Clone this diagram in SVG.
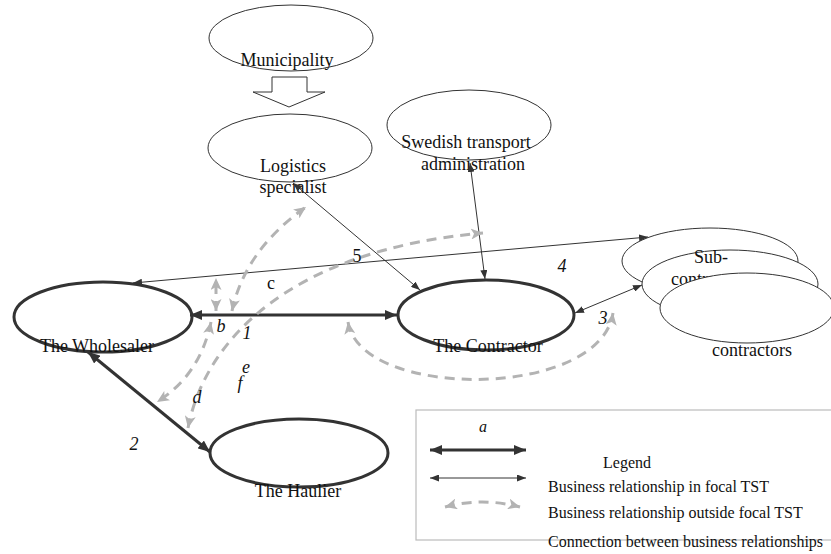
<svg xmlns="http://www.w3.org/2000/svg" width="831" height="554" viewBox="0 0 831 554">
<defs>
<style>
.nd{fill:#fff;stroke:#333;stroke-width:1}
.nt{fill:#fff;stroke:#333;stroke-width:3}
.t{font-family:"Liberation Serif","Times New Roman",serif;font-size:18px;fill:#111;text-anchor:middle}
.lg{font-family:"Liberation Serif","Times New Roman",serif;font-size:16px;fill:#111}
.it{font-style:italic}
.thick{stroke:#333;stroke-width:3;fill:none;marker-start:url(#ak);marker-end:url(#ak)}
.thin{stroke:#333;stroke-width:1;fill:none}
.gd{stroke:#b3b3b3;stroke-width:3;fill:none;stroke-dasharray:10 7;marker-start:url(#ag);marker-end:url(#ag)}
</style>
<marker id="ak" markerUnits="userSpaceOnUse" markerWidth="12" markerHeight="10" refX="12" refY="5" orient="auto-start-reverse"><path d="M0,0 L12,5 L0,10 z" fill="#333"/></marker>
<marker id="an" markerUnits="userSpaceOnUse" markerWidth="9" markerHeight="7" refX="9" refY="3.5" orient="auto-start-reverse"><path d="M0,0 L9,3.5 L0,7 z" fill="#333"/></marker>
<marker id="ag" markerUnits="userSpaceOnUse" markerWidth="12" markerHeight="11" refX="12" refY="5.5" orient="auto-start-reverse"><path d="M0,0 L12,5.5 L0,11 L3,5.5 z" fill="#b3b3b3"/></marker>
</defs>
<rect width="831" height="554" fill="#fff"/>

<g id="legend">
<rect x="416" y="410" width="420" height="130" fill="none" stroke="#bbb" stroke-width="1.2"/>
<text class="lg it" x="483" y="432" text-anchor="middle">a</text>
<line class="thick" x1="430" y1="450" x2="526" y2="450"/>
<line class="thin" x1="430" y1="478" x2="526" y2="478" marker-start="url(#an)" marker-end="url(#an)"/>
<path class="gd" d="M445,507 Q482,497 520,507"/>
<text class="lg" x="627" y="468" text-anchor="middle">Legend</text>
<text class="lg" x="548" y="492">Business relationship in focal TST</text>
<text class="lg" x="548" y="518">Business relationship outside focal TST</text>
<text class="lg" x="548" y="547">Connection between business relationships</text>
</g>

<g id="municipality">
<ellipse class="nd" cx="291" cy="38" rx="82" ry="33"/>
<text class="t" x="287" y="66">Municipality</text>
</g>
<g id="block-arrow">
<polygon points="272,77 307,77 307,92 325,92 289,107 253,92 272,92" fill="#fff" stroke="#333" stroke-width="1"/>
</g>
<g id="logistics">
<ellipse class="nd" cx="290" cy="148" rx="82" ry="34"/>
<text class="t" x="293" y="172">Logistics</text>
<text class="t" x="293" y="193">specialist</text>
</g>
<g id="swedish">
<ellipse class="nd" cx="469" cy="125" rx="82" ry="35"/>
<text class="t" x="466" y="148">Swedish transport</text>
<text class="t" x="473" y="170">administration</text>
</g>
<g id="subcontractors">
<ellipse class="nd" cx="710" cy="261" rx="88" ry="33"/>
<ellipse class="nd" cx="730" cy="284" rx="88" ry="34"/>
<text class="t" x="711" y="263">Sub-</text>
<text class="t" x="711" y="285">contractors</text>
<ellipse class="nd" cx="747" cy="308" rx="87" ry="35"/>
<text class="t" x="752" y="356">contractors</text>
</g>
<g id="wholesaler">
<ellipse class="nt" cx="103" cy="317" rx="89" ry="35"/>
<text class="t" x="97" y="352">The Wholesaler</text>
</g>
<g id="contractor">
<ellipse class="nt" cx="486" cy="315" rx="88" ry="35"/>
<text class="t" x="488" y="352">The Contractor</text>
</g>
<g id="haulier">
<ellipse class="nt" cx="299" cy="453" rx="89" ry="34"/>
<text class="t" x="298" y="497">The Haulier</text>
</g>

<g id="connectors">
<line class="thick" x1="190" y1="315" x2="397" y2="315"/>
<line class="thick" x1="88" y1="352" x2="210" y2="452"/>
<line class="thin" x1="648" y1="237" x2="133" y2="283" marker-start="url(#an)" marker-end="url(#an)"/>
<line class="thin" x1="293" y1="183" x2="420" y2="290" marker-start="url(#an)" marker-end="url(#an)"/>
<line class="thin" x1="470" y1="163" x2="485" y2="279" marker-start="url(#an)" marker-end="url(#an)"/>
<line class="thin" x1="575" y1="313" x2="642" y2="285" marker-start="url(#an)" marker-end="url(#an)"/>
<path class="gd" d="M232,311 Q245,250 306,207"/>
<path class="gd" d="M216,311 L216,278"/>
<path class="gd" d="M211,322 Q200,375 157,402"/>
<path class="gd" d="M188,428 C205,340 290,250 483,233"/>
<path class="gd" d="M348,322 C360,400 600,400 613,313"/>
</g>

<g id="labels">
<text class="t" x="357" y="262">5</text>
<text class="t" x="271" y="289">c</text>
<text class="t it" x="562" y="272">4</text>
<text class="t it" x="603" y="324">3</text>
<text class="t it" x="221" y="332">b</text>
<text class="t it" x="247" y="339">1</text>
<text class="t it" x="246" y="373">e</text>
<text class="t it" x="240" y="389">f</text>
<text class="t it" x="197" y="403">d</text>
<text class="t it" x="134" y="450">2</text>
</g>
</svg>
